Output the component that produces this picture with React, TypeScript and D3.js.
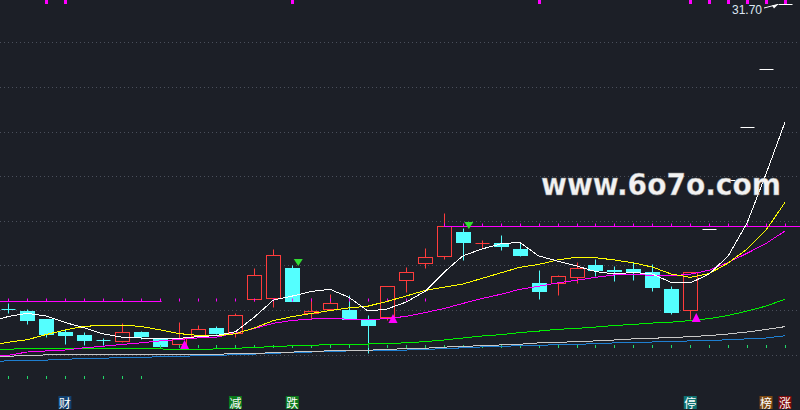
import React from 'react';
import * as d3 from 'd3';

const W = 800;
const H = 410;

// daily bars, index 0..41 (the last five are one-price limit-up days)
const opens = [
  18.04, 17.95, 17.59, 17.02, 16.86, 16.64, 16.59, 17.01, 16.72, 16.46,
  16.84, 17.19, 16.96, 18.48, 18.55, 19.88, 17.87, 18.05, 18.0, 17.59,
  17.67, 19.35, 20.09, 20.4, 21.49, 20.98, 21.0, 20.73, 19.22, 19.22,
  19.46, 20.01, 19.77, 19.83, 19.69, 18.94, 18.01, 21.65, 23.82, 26.2,
  28.82, 31.7,
];
const highs = [
  18.3, 18.04, 17.59, 17.14, 17.0, 16.74, 17.4, 17.07, 16.75, 17.46,
  17.32, 17.28, 17.86, 19.88, 20.73, 20.01, 18.53, 18.7, 18.67, 17.77,
  19.07, 19.92, 20.76, 22.35, 21.67, 21.13, 21.36, 20.99, 19.79, 19.55,
  20.15, 20.28, 19.97, 20.13, 20.06, 19.07, 19.68, 21.65, 23.82, 26.2,
  28.82, 31.7,
];
const lows = [
  17.85, 17.38, 16.8, 16.48, 16.44, 16.41, 16.55, 16.71, 16.35, 16.38,
  16.83, 16.91, 16.77, 18.4, 18.14, 18.4, 17.59, 18.0, 17.6, 16.05,
  17.55, 18.82, 19.89, 20.28, 20.24, 20.76, 20.7, 20.42, 18.5, 18.68,
  19.22, 19.53, 19.3, 19.34, 18.86, 17.83, 17.59, 21.65, 23.82, 26.2,
  28.82, 31.7,
];
const closes = [
  18.03, 17.56, 16.91, 16.89, 16.66, 16.63, 17.01, 16.84, 16.39, 16.75,
  17.14, 16.96, 17.77, 19.57, 20.46, 18.41, 17.95, 18.31, 17.61, 17.32,
  19.06, 19.7, 20.36, 21.75, 21.04, 20.99, 20.88, 20.48, 18.85, 19.51,
  19.88, 19.79, 19.76, 19.7, 19.04, 17.91, 19.68, 21.65, 23.82, 26.2,
  28.82, 31.7,
];

// moving average lines, index -1..41 (first value is the day before the first bar)
const ma5 = [
  17.46,
  17.7, 17.85, 17.73, 17.44, 17.2, 16.93, 16.78, 16.74, 16.71, 16.72,
  16.8, 16.85, 17.02, 17.68, 18.44, 18.62, 18.83, 18.92, 18.56, 17.95,
  18.04, 18.35, 18.83, 19.68, 20.42, 20.73, 20.96, 21.03, 20.42, 20.19,
  19.97, 19.72, 19.61, 19.68, 19.61, 19.23, 19.21, 19.61, 20.42, 21.9,
  24.1, 26.42,
];
const ma10 = [
  16.4,
  16.55, 16.66, 16.89, 17.1, 17.26, 17.31, 17.32, 17.26, 17.11, 16.94,
  16.86, 16.84, 16.93, 17.19, 17.52, 17.7, 17.84, 17.97, 18.09, 18.17,
  18.38, 18.62, 18.87, 19.02, 19.16, 19.41, 19.66, 19.91, 20.04, 20.24,
  20.36, 20.34, 20.24, 20.11, 19.92, 19.61, 19.46, 19.63, 20.1, 20.73,
  21.58, 22.82,
];
const ma20 = [
  15.93,
  15.96, 16.11, 16.16, 16.2, 16.3, 16.37, 16.45, 16.52, 16.61, 16.67,
  16.74, 16.78, 16.96, 17.17, 17.4, 17.53, 17.59, 17.62, 17.58, 17.56,
  17.61, 17.71, 17.88, 18.06, 18.29, 18.51, 18.7, 18.92, 19.06, 19.21,
  19.33, 19.46, 19.57, 19.6, 19.54, 19.53, 19.6, 19.78, 20.13, 20.54,
  20.98, 21.54,
];
const ma60 = [
  16.23,
  16.23, 16.28, 16.28, 16.28, 16.28, 16.28, 16.28, 16.27, 16.25, 16.23,
  16.23, 16.25, 16.28, 16.31, 16.36, 16.39, 16.41, 16.45, 16.46, 16.47,
  16.5, 16.52, 16.58, 16.65, 16.74, 16.83, 16.89, 16.98, 17.05, 17.13,
  17.17, 17.23, 17.3, 17.35, 17.41, 17.45, 17.52, 17.61, 17.75, 17.95,
  18.17, 18.48,
];
const ma120 = [
  15.91,
  15.92, 15.96, 15.98, 15.98, 15.98, 15.98, 15.98, 16.0, 16.0, 16.01,
  16.01, 16.01, 16.04, 16.05, 16.08, 16.11, 16.13, 16.17, 16.19, 16.19,
  16.23, 16.26, 16.28, 16.33, 16.37, 16.39, 16.43, 16.46, 16.52, 16.55,
  16.57, 16.61, 16.65, 16.7, 16.73, 16.76, 16.8, 16.85, 16.92, 17.01,
  17.12, 17.25,
];
const ma250 = [
  15.7,
  15.71, 15.73, 15.75, 15.78, 15.83, 15.83, 15.87, 15.87, 15.9, 15.92,
  15.94, 15.96, 15.99, 16.02, 16.05, 16.09, 16.11, 16.14, 16.16, 16.17,
  16.19, 16.2, 16.23, 16.26, 16.3, 16.34, 16.37, 16.39, 16.4, 16.45,
  16.46, 16.48, 16.52, 16.53, 16.56, 16.58, 16.61, 16.63, 16.66, 16.7,
  16.74, 16.84,
];

// small green marks under the averages
const dotLevels = [
  14.98, 14.98, 14.98, 14.98, 14.98, 14.98, 14.98, 14.98, 16.37, 16.37,
  16.37, 16.37, 16.37, 16.37, 16.37, 16.37, 16.37, 16.37, 16.37, 16.37,
  16.37, 16.37, 16.37, 16.37, 16.37, 16.37, 16.37, 16.37, 16.37, 16.37,
  16.37, 16.37, 16.37, 16.37, 16.37, 16.37, 16.37, 16.37, 16.37, 16.37,
  16.37, 16.37,
];

const upSignals = [9, 20, 36];
const downSignals = [15, 24];
const topMarks = [2, 3, 15, 28, 36, 37, 38, 39, 40, 41];

const levels = [
  { price: 18.42, lineFrom: 0, lineTo: 8, tickFrom: 0, tickTo: 22 },
  { price: 21.75, lineFrom: 23, lineTo: 41, tickFrom: 23, tickTo: 41 },
];

const tags = [
  { i: 3, text: '财', bg: '#12406e' },
  { i: 12, text: '减', bg: '#0b7a1c' },
  { i: 15, text: '跌', bg: '#0b7a1c' },
  { i: 36, text: '停', bg: '#0f7272' },
  { i: 40, text: '榜', bg: '#7c4812' },
  { i: 41, text: '涨', bg: '#7c0c0c' },
];

const gridPrices = [16, 18, 20, 22, 24, 26, 28, 30];
const lastLabel = '31.70';

const BG = '#1c1f27';
const RED = '#ff3c3c';
const CYAN = '#54ffff';

const x = d3.scaleLinear().domain([0, 41]).range([8, 785]);
const y = d3.scaleLinear().domain([16, 30]).range([354.5, 42.3]);
const px = (v: number) => Math.round(v) + 0.5;

// MA arrays start one day before the first bar
const lineOf = d3
  .line<number>()
  .x((_, i) => x(i - 1))
  .y((d) => y(d));

const maLines = [
  { data: ma250, color: '#1f7fd0' },
  { data: ma120, color: '#c8c8c8' },
  { data: ma60, color: '#00f000' },
  { data: ma20, color: '#ff00ff' },
  { data: ma10, color: '#ffff00' },
  { data: ma5, color: '#ffffff' },
];

const Candle: React.FC<{ i: number }> = ({ i }) => {
  const o = opens[i];
  const c = closes[i];
  const h = highs[i];
  const l = lows[i];
  const cx = px(x(i));
  if (h === l) {
    const yy = px(y(c));
    return <line x1={cx - 7} x2={cx + 7} y1={yy} y2={yy} stroke="#ffffff" />;
  }
  const up = c > o || (c === o && i > 0 && c >= closes[i - 1]);
  const yTop = px(y(Math.max(o, c)));
  const yBot = px(y(Math.min(o, c)));
  const yH = px(y(h));
  const yL = px(y(l));
  const flat = yBot - yTop < 1;
  if (up) {
    return (
      <g stroke={RED} fill={BG}>
        <line x1={cx} x2={cx} y1={yH} y2={yTop} />
        <line x1={cx} x2={cx} y1={yBot} y2={yL} />
        {flat ? (
          <line x1={cx - 7} x2={cx + 7} y1={yTop} y2={yTop} />
        ) : (
          <rect x={cx - 7} y={yTop} width={14} height={yBot - yTop} />
        )}
      </g>
    );
  }
  return (
    <g>
      <line x1={cx} x2={cx} y1={yH} y2={yL} stroke={CYAN} />
      {flat ? (
        <line x1={cx - 7} x2={cx + 7} y1={yTop} y2={yTop} stroke={CYAN} />
      ) : (
        <rect x={cx - 7.5} y={yTop - 0.5} width={15} height={yBot - yTop + 1} fill={CYAN} />
      )}
    </g>
  );
};

export default function App() {
  const last = closes.length - 1;
  const tx = x(last) - 7;
  const ty = y(closes[last]);
  return (
    <div style={{ position: 'absolute', left: 0, top: 0 }}>
      <svg width={W} height={H} style={{ display: 'block' }}>
        <rect width={W} height={H} fill={BG} />

        {gridPrices.map((p) => (
          <line
            key={p}
            x1={0}
            x2={W}
            y1={px(y(p))}
            y2={px(y(p))}
            stroke="#4a4f5b"
            strokeDasharray="1 3"
          />
        ))}

        {closes.map((_, i) => (
          <Candle key={i} i={i} />
        ))}

        {dotLevels.map((p, i) => (
          <rect key={i} x={Math.round(x(i))} y={Math.round(y(p)) - 1} width={1} height={3} fill="#22d86a" />
        ))}

        {levels.map((lv, k) => {
          const yy = px(y(lv.price));
          const x1 = lv.lineFrom === 0 ? 0 : x(lv.lineFrom);
          const x2 = lv.lineTo === last ? W : x(lv.lineTo) + 2;
          const ticks = d3.range(lv.tickFrom, lv.tickTo + 1);
          return (
            <g key={k}>
              <line x1={x1} x2={x2} y1={yy} y2={yy} stroke="#ff00ff" strokeWidth={1.2} />
              {ticks.map((t) => (
                <rect key={t} x={Math.round(x(t))} y={yy - 3} width={1} height={3} fill="#ff00ff" />
              ))}
            </g>
          );
        })}

        {maLines.map((m, k) => (
          <path
            key={k}
            d={lineOf(m.data) || ''}
            fill="none"
            stroke={m.color}
            strokeWidth={1}
            shapeRendering="crispEdges"
          />
        ))}

        {topMarks.map((i) => (
          <rect key={i} x={Math.round(x(i)) - 1} y={0} width={3} height={4} fill="#ff00ff" />
        ))}

        {upSignals.map((i) => {
          const cx = x(i) + 6;
          const base = y(lows[i]) + 3;
          return (
            <polygon
              key={i}
              points={`${cx - 4.5},${base} ${cx + 4.5},${base} ${cx},${base - 9}`}
              fill="#ff00ff"
            />
          );
        })}
        {downSignals.map((i) => {
          const cx = x(i) + 6;
          const top = y(highs[i]) - 6;
          return (
            <polygon
              key={i}
              points={`${cx - 4.5},${top} ${cx + 4.5},${top} ${cx},${top + 7}`}
              fill="#33dd33"
            />
          );
        })}

        <text
          x={541}
          y={195}
          textLength={240}
          lengthAdjust="spacingAndGlyphs"
          fontFamily="DejaVu Sans"
          fontWeight="bold"
          fontSize={30}
          fill="#f2f2f2"
          stroke="#888"
          strokeWidth={0.4}
        >
          www.6o7o.com
        </text>

        <text x={762} y={14} textAnchor="end" fontFamily="Liberation Sans" fontSize={12} fill="#dce6f2">
          {lastLabel}
        </text>
        <line x1={764} y1={8} x2={tx} y2={ty} stroke="#ffffff" />
        <polygon
          points={`${tx},${ty} ${tx - 6},${ty + 1} ${tx - 4},${ty + 4}`}
          fill="#ffffff"
        />

        {tags.map((t) => {
          const cx = x(t.i);
          return (
            <g key={t.i}>
              <rect x={cx - 6.5} y={396} width={13} height={13} fill={t.bg} />
              <text
                x={cx}
                y={407.5}
                textAnchor="middle"
                fontFamily="Noto Sans CJK SC"
                fontSize={12}
                fill="#ffffff"
              >
                {t.text}
              </text>
            </g>
          );
        })}
      </svg>
    </div>
  );
}
